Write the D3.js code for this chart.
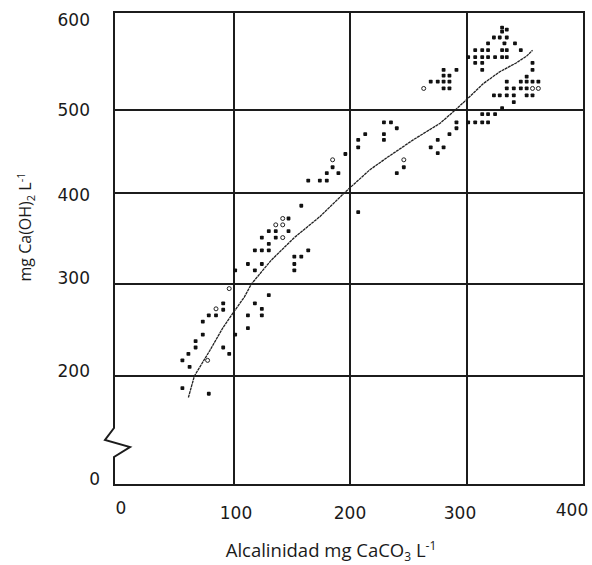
<!DOCTYPE html>
<meta charset="utf-8">
<style>
  body { margin: 0; background: #fff; }
  svg { display: block; }
  .tick-label { font-family: "DejaVu Sans", Verdana, sans-serif; font-size: 17px; fill: #1a1a1a; }
  .title { font-family: "Open Sans", "DejaVu Sans", sans-serif; fill: #1a1a1a; }
</style>
<div id="chart"></div>
<script src="https://cdn.jsdelivr.net/npm/d3@7"></script>
<script>

// alkalinity (mg CaCO3/L) vs lime (mg Ca(OH)2/L)
var filledPts = [
  [101,315],[112,322],[124,322],[118,315],[130,288],[118,279],[91,279],[91,272],[124,273],
  [79,266],[85,266],[112,266],[124,266],[74,259],[112,252],[101,245],[74,245],[68,238],
  [68,231],[91,231],[62,224],[96,224],[57,217],[63,210],[57,187],[79,181],
  [118,337],[124,337],[130,337],[130,344],[124,351],[136,351],[130,358],[136,358],[147,358],
  [147,372],[158,386],[164,337],[152,330],[158,330],[152,322],[152,315],
  [164,415],[174,415],[180,415],[180,424],[190,424],[185,431],[196,447],[207,455],[207,464],
  [213,471],[207,379],
  [229,485],[235,485],[240,478],[229,471],[229,464],[246,431],[240,424],
  [269,455],[275,464],[280,455],[275,448],[285,471],[291,478],[291,485],
  [280,541],[291,541],[280,535],[285,535],[269,529],[275,529],[280,529],[285,529],[280,522],[285,522],
  [330,584],[330,580],[334,582],[323,574],[328,574],[334,574],[318,568],[332,568],[341,568],
  [307,561],[313,561],[318,561],[330,561],[334,561],[346,561],
  [301,554],[307,554],[313,554],[318,554],[324,554],[330,554],[334,554],
  [307,548],[313,548],[313,541],[356,548],[356,541],[351,534],
  [334,529],[346,529],[351,529],[356,529],[361,529],
  [334,522],[340,522],[346,522],[351,522],
  [323,515],[328,515],[334,515],[340,515],[351,515],[356,515],
  [340,508],[330,502],[313,495],[318,495],[324,495],
  [301,485],[307,485],[313,485],[318,485]
];
var openPts = [
  [96,295],[85,273],[78,217],[142,351],[136,365],[142,365],[142,372],
  [185,440],[246,440],[263,522],[356,522],[361,522]
];

// fitted curve
var curvePts = [
  [62,177],[67,200],[80,228],[91,253],[100,270],[109,286],[115,300],[132,326],[152,351],
  [174,374],[195,400],[217,428],[232,443],[254,464],[277,484],[290,500],[300,511],
  [314,527],[328,539],[342,548],[351,555],[356,561]
];

var xTicks = [0, 100, 200, 300, 400];
var yTicks = [0, 200, 300, 400, 500, 600];
var yGrid = [200, 300, 400, 500, 600];

var width = 592, height = 565;

var svg = d3.select("#chart").append("svg")
    .attr("width", width)
    .attr("height", height);

// hand-drawn figure: spacing is not quite even, so piecewise scales
var x = d3.scaleLinear()
    .domain([0, 100, 200, 300, 400])
    .range([114, 234, 350, 467, 584]);

var y = d3.scaleLinear()
    .domain([0, 170, 200, 300, 400, 500, 600])
    .range([485, 404, 376, 284, 193, 110, 12]);

var ink = "#1c1c1c";

// grid
svg.append("g")
  .selectAll("line")
  .data(yGrid)
  .enter().append("line")
    .attr("x1", x(0)).attr("x2", x(400))
    .attr("y1", d => y(d)).attr("y2", d => y(d))
    .attr("stroke", ink).attr("stroke-width", 2);

svg.append("g")
  .selectAll("line")
  .data(xTicks.slice(1))
  .enter().append("line")
    .attr("x1", d => x(d)).attr("x2", d => x(d))
    .attr("y1", y(600) - 1).attr("y2", y(0) + 1)
    .attr("stroke", ink).attr("stroke-width", 2);

// bottom axis
svg.append("line")
    .attr("x1", x(0) - 1).attr("x2", x(400) + 1)
    .attr("y1", y(0)).attr("y2", y(0))
    .attr("stroke", ink).attr("stroke-width", 2);

// left axis with break
var x0 = x(0), yb = y(0);
svg.append("path")
    .attr("d", d3.line()([
      [x0, y(600) - 1], [x0, yb - 57], [x0 - 9, yb - 45], [x0 + 16, yb - 38],
      [x0, yb - 28], [x0, yb + 1]
    ]))
    .attr("fill", "none")
    .attr("stroke", ink).attr("stroke-width", 2);

// curve
svg.append("path")
    .datum(curvePts)
    .attr("d", d3.line().x(d => x(d[0])).y(d => y(d[1])))
    .attr("fill", "none")
    .attr("stroke", "#222")
    .attr("stroke-width", 1.3)
    .attr("stroke-dasharray", "3,0.6");

// points
svg.append("g")
  .selectAll("rect")
  .data(filledPts)
  .enter().append("rect")
    .attr("x", d => x(d[0]) - 1.9)
    .attr("y", d => y(d[1]) - 1.9)
    .attr("width", 3.8).attr("height", 3.8)
    .attr("rx", 0.8)
    .attr("fill", "#111");

svg.append("g")
  .selectAll("circle")
  .data(openPts)
  .enter().append("circle")
    .attr("cx", d => x(d[0]))
    .attr("cy", d => y(d[1]))
    .attr("r", 2)
    .attr("fill", "#fff")
    .attr("stroke", "#222").attr("stroke-width", 1);

// tick labels (nudged like the original drawing)
var xNudge = { 0: [7, 23], 100: [2, 28], 200: [0, 28], 300: [-7, 28], 400: [-12, 25] };
svg.append("g")
  .selectAll("text")
  .data(xTicks)
  .enter().append("text")
    .attr("class", "tick-label")
    .attr("x", d => x(d) + xNudge[d][0])
    .attr("y", d => y(0) + xNudge[d][1])
    .attr("text-anchor", "middle")
    .attr("dominant-baseline", "central")
    .text(d => d);

var yNudge = { 0: [100, -6], 200: [90, -5], 300: [90, -6], 400: [90, 2], 500: [90, 0], 600: [90, 8] };
svg.append("g")
  .selectAll("text")
  .data(yTicks)
  .enter().append("text")
    .attr("class", "tick-label")
    .attr("x", d => yNudge[d][0])
    .attr("y", d => y(d) + yNudge[d][1])
    .attr("text-anchor", "end")
    .attr("dominant-baseline", "central")
    .text(d => d);

// axis titles
var xt = svg.append("text")
    .attr("class", "title")
    .style("font-size", "18.5px")
    .attr("x", 331).attr("y", 557)
    .attr("text-anchor", "middle");
xt.append("tspan").text("Alcalinidad mg CaCO");
xt.append("tspan").style("font-size", "12px").attr("dy", 4).text("3");
xt.append("tspan").attr("dy", -4).text(" L");
xt.append("tspan").style("font-size", "12px").attr("dy", -7).text("-1");

var yt = svg.append("text")
    .attr("class", "title")
    .style("font-size", "16px")
    .attr("transform", "translate(31,227)rotate(-90)")
    .attr("text-anchor", "middle");
yt.append("tspan").text("mg Ca(OH)");
yt.append("tspan").style("font-size", "11px").attr("dy", 4).text("2");
yt.append("tspan").attr("dy", -4).text(" L");
yt.append("tspan").style("font-size", "11px").attr("dy", -6).text("-1");

</script>
